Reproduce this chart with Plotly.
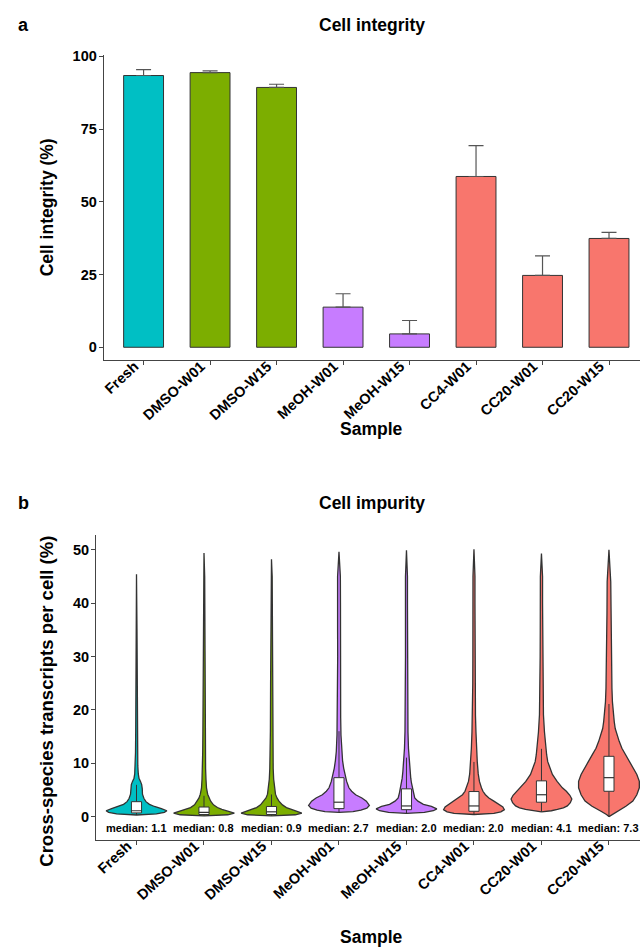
import plotly.graph_objects as go

samples = ["Fresh", "DMSO-W01", "DMSO-W15", "MeOH-W01", "MeOH-W15", "CC4-W01", "CC20-W01", "CC20-W15"]
colors = ["#00BFC4", "#7CAE00", "#7CAE00", "#C77CFF", "#C77CFF", "#F8766D", "#F8766D", "#F8766D"]

# Panel a: cell integrity (%)
integrity_mean = [93.4, 94.4, 89.3, 13.8, 4.6, 58.7, 24.7, 37.4]
integrity_err = [2.0, 0.6, 1.1, 4.6, 4.6, 10.6, 6.7, 2.1]

# Panel b: violin density outlines (value levels and relative half-widths)
fresh_lv = [0.3, 0.5, 0.8, 1.1, 1.5, 1.9, 2.3, 2.8, 3.4, 4.2, 5.2, 6.0, 6.6, 7.2, 8.0, 9.5, 12, 16, 25, 35, 45.4]
fresh_w = [0, 20, 28, 30.5, 25, 18, 13, 9.5, 7.5, 6, 5.8, 5.2, 4, 2.5, 1.8, 1.3, 1.0, 0.8, 0.6, 0.5, 0]
dmso1_lv = [0.15, 0.35, 0.65, 1.0, 1.35, 1.7, 2.2, 2.9, 3.5, 4.2, 5.4, 7, 9, 12, 16, 25, 35, 45, 49.4]
dmso1_w = [0, 24, 30.5, 25, 18, 13.5, 9.5, 6.7, 5, 3.7, 2.5, 2, 1.6, 1.3, 1.1, 0.9, 0.8, 0.7, 0]
dmso15_lv = [0.15, 0.35, 0.65, 1.0, 1.35, 1.7, 2.2, 2.9, 3.5, 4.2, 5.4, 7, 9, 12, 16, 25, 35, 45, 48.2]
dmso15_w = [0, 24, 30.5, 26, 20, 15, 11, 7.5, 5.5, 4, 3, 2.2, 1.7, 1.3, 1.1, 0.9, 0.8, 0.7, 0]
meoh1_lv = [0.8, 0.95, 1.2, 1.6, 2.1, 2.9, 3.5, 4.1, 4.75, 5.4, 6.6, 7.9, 9.1, 10.5, 12.2, 15.3, 18.5, 21.5, 26, 30, 35, 40, 45, 49.6]
meoh1_w = [0, 14, 22, 28, 30.5, 27.5, 23, 16.7, 12.7, 10, 7.7, 6, 4.7, 3.6, 2.7, 2, 1.7, 1.5, 1.3, 1.3, 1.4, 1.5, 1.4, 0]
meoh15_lv = [0.6, 0.8, 1.1, 1.45, 1.9, 2.3, 2.9, 3.5, 4.5, 5.4, 6.3, 7.2, 8.5, 9.7, 11, 12.8, 15.9, 20, 25, 30, 35, 40, 45, 49.9]
meoh15_w = [0, 18, 27, 30.5, 25, 17, 11.5, 8.3, 7, 6, 5, 4.3, 3.6, 3, 2.5, 2, 1.5, 1.2, 1.1, 1, 1, 1, 1, 0]
cc4_lv = [0.4, 0.6, 0.9, 1.3, 1.8, 2.3, 2.9, 3.5, 4.1, 4.75, 5.4, 6.6, 8.0, 10.3, 12.8, 15.9, 19, 25, 30, 35, 40, 45, 50.1]
cc4_w = [0, 20, 27, 30.5, 29, 25, 20, 15, 11.5, 9, 7.5, 5.5, 4.3, 3.3, 2.6, 2, 1.5, 1.2, 1.1, 1.0, 1.0, 1.0, 0]
cc20a_lv = [0.9, 1.1, 1.35, 1.65, 2.0, 2.6, 3.3, 4.0, 4.75, 5.4, 6.6, 7.9, 9.1, 10.3, 11.6, 12.8, 15.9, 19.1, 22.1, 25.2, 30, 35, 40, 45, 49.3]
cc20a_w = [0, 10, 16, 22, 26, 29, 30.5, 28.5, 25, 21, 15.7, 11, 8.3, 6.3, 5.2, 4.4, 3, 2, 1.7, 1.5, 1.3, 1.2, 1.1, 1.1, 0]
cc20b_lv = [0, 0.4, 1.0, 1.95, 2.9, 4.1, 5.4, 6.6, 7.9, 9.1, 10.3, 11.6, 12.8, 14.1, 15.3, 16.5, 17.8, 19.0, 21.5, 24, 28, 33, 38, 44, 50]
cc20b_w = [0, 2.5, 8, 17, 24, 28, 30.5, 30.5, 28, 24.7, 20.7, 16.7, 13, 10.3, 8, 6.3, 5.3, 4.5, 3.5, 3, 2.5, 2.2, 2, 1.8, 0]

box_q1 = [0.7, 0.4, 0.4, 1.5, 1.3, 1.0, 2.7, 4.75]
box_median = [1.1, 0.8, 0.9, 2.7, 2.0, 2.0, 4.1, 7.3]
box_q3 = [2.8, 1.8, 1.9, 7.3, 5.2, 4.7, 6.7, 11.3]
box_low = [0.3, 0.15, 0.15, 0.8, 0.6, 0.4, 0.9, 0.0]
box_high = [5.95, 3.9, 4.15, 16.0, 11.05, 10.25, 12.7, 21.1]
median_labels = [1.1, 0.8, 0.9, 2.7, 2.0, 2.0, 4.1, 7.3]

y_ticks_a = [0, 25, 50, 75, 100]
y_ticks_b = [0, 10, 20, 30, 40, 50]

FONT = "Liberation Sans, Arial, Helvetica, sans-serif"
AX = "#444444"
OUT = "#333333"

fig = go.Figure()

fig.add_trace(go.Bar(
    x=list(range(len(samples))), y=integrity_mean, width=0.6,
    marker=dict(color=colors, line=dict(color=OUT, width=1)),
    error_y=dict(type="data", symmetric=False, array=integrity_err,
                 arrayminus=[0] * len(samples), color="#555555", thickness=1.2, width=7.5),
    xaxis="x", yaxis="y", showlegend=False, hoverinfo="skip"))

profiles = [(fresh_lv, fresh_w), (dmso1_lv, dmso1_w), (dmso15_lv, dmso15_w),
            (meoh1_lv, meoh1_w), (meoh15_lv, meoh15_w), (cc4_lv, cc4_w),
            (cc20a_lv, cc20a_w), (cc20b_lv, cc20b_w)]
half_max = 0.45
for i, (lv, w) in enumerate(profiles):
    m = max(w)
    rel = [v / m * half_max for v in w]
    xs = [i - r for r in rel] + [i + r for r in reversed(rel)]
    ys = list(lv) + list(reversed(lv))
    fig.add_trace(go.Scatter(
        x=xs, y=ys, mode="lines", fill="toself", fillcolor=colors[i],
        line=dict(color=OUT, width=1.3),
        xaxis="x2", yaxis="y2", showlegend=False, hoverinfo="skip"))

# box plots drawn on top of the violins
bw = 0.075
for i in range(len(samples)):
    fig.add_trace(go.Scatter(
        x=[i, i, None, i, i], y=[box_low[i], box_q1[i], None, box_q3[i], box_high[i]],
        mode="lines", line=dict(color=OUT, width=1),
        xaxis="x2", yaxis="y2", showlegend=False, hoverinfo="skip"))
    fig.add_trace(go.Scatter(
        x=[i - bw, i + bw, i + bw, i - bw, i - bw],
        y=[box_q1[i], box_q1[i], box_q3[i], box_q3[i], box_q1[i]],
        mode="lines", fill="toself", fillcolor="white", line=dict(color=OUT, width=1),
        xaxis="x2", yaxis="y2", showlegend=False, hoverinfo="skip"))
    fig.add_trace(go.Scatter(
        x=[i - bw, i + bw], y=[box_median[i], box_median[i]],
        mode="lines", line=dict(color=OUT, width=1.2),
        xaxis="x2", yaxis="y2", showlegend=False, hoverinfo="skip"))

xtickfont = dict(family=FONT, size=14.5, color="black", weight="bold")
ytickfont = dict(family=FONT, size=14.5, color="black", weight="bold")
common_x = dict(showline=True, linecolor=AX, linewidth=1, ticks="outside", ticklen=4,
                tickcolor=AX, tickwidth=1, showgrid=False, zeroline=False,
                tickangle=-43, tickfont=xtickfont, ticklabelstandoff=-13, ticklabelshift=-9,
                tickvals=list(range(len(samples))), ticktext=samples)
common_y = dict(showline=True, linecolor=AX, linewidth=1, ticks="outside", ticklen=4,
                tickcolor=AX, tickwidth=1, showgrid=False, zeroline=False,
                tickfont=ytickfont, ticklabelstandoff=-1)

fig.update_layout(
    width=640, height=949, margin=dict(l=0, r=0, t=0, b=0),
    paper_bgcolor="white", plot_bgcolor="white",
    font=dict(family=FONT, color="black"),
    xaxis=dict(domain=[102 / 640, 1], range=[-0.6, 7.466], anchor="y", **common_x),
    yaxis=dict(domain=[1 - 356 / 949, 1 - 48.8 / 949], range=[-4.5, 100.3], anchor="x",
               tickvals=y_ticks_a, **common_y),
    xaxis2=dict(domain=[94.3 / 640, 1], range=[-0.6, 7.46], anchor="y2", **common_x),
    yaxis2=dict(domain=[1 - 839.3 / 949, 1 - 531.7 / 949], range=[-4.4, 52.8], anchor="x2",
                tickvals=y_ticks_b, **common_y),
)

def ann(text, x, y, size, angle=0, xanchor="center"):
    fig.add_annotation(text=text, x=x / 640, y=1 - y / 949, xref="paper", yref="paper",
                       showarrow=False, textangle=angle, xanchor=xanchor, yanchor="middle",
                       font=dict(family=FONT, size=size, color="black", weight="bold"))

ann("a", 14, 18, 18, xanchor="left")
ann("b", 14, 500, 18, xanchor="left")
ann("Cell integrity", 371, 18, 17.5)
ann("Cell impurity", 371, 500, 17.5)
ann("Cell integrity (%)", 45, 202, 17.5, angle=-90)
ann("Cross-species transcripts per cell (%)", 45, 699, 18.5, angle=-90)
ann("Sample", 371, 425, 17.5)
ann("Sample", 371, 937, 17.5)

for i, m in enumerate(median_labels):
    fig.add_annotation(text=f"median: {m:.1f}", x=i, y=-2.1, xref="x2", yref="y2",
                       showarrow=False, font=dict(family=FONT, size=11, color="black", weight="bold"))

fig.write_html("out.html")
